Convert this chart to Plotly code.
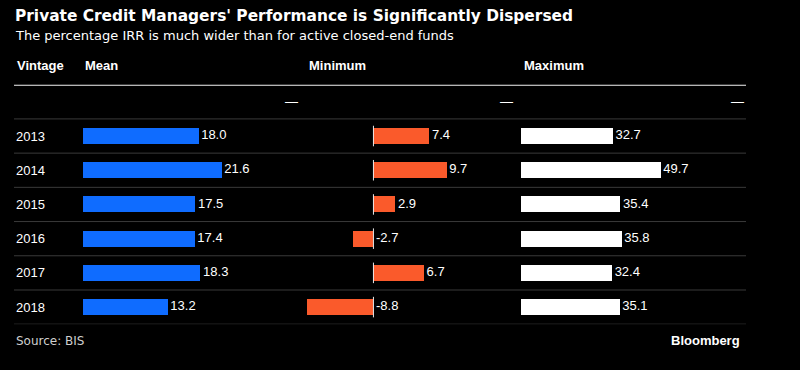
import plotly.graph_objects as go

# ---- data ----
vintages = ["2013", "2014", "2015", "2016", "2017", "2018"]
mean_irr = [18.0, 21.6, 17.5, 17.4, 18.3, 13.2]
min_irr = [7.4, 9.7, 2.9, -2.7, 6.7, -8.8]
max_irr = [32.7, 49.7, 35.4, 35.8, 32.4, 35.1]
col_headers = ["Vintage", "Mean", "Minimum", "Maximum"]
title = "Private Credit Managers' Performance is Significantly Dispersed"
subtitle = "The percentage IRR is much wider than for active closed-end funds"
source = "Source: BIS"

W, H = 800, 370
BLUE = "#0f6cff"
ORANGE = "#fa5a2b"
WHITE = "#ffffff"
GRID = "#3a3a3a"

rows = list(range(1, len(vintages) + 1))  # row 0 is the empty "—" row

def px(x):
    return x / W

def py(y):
    return 1 - y / H

# column domains (pixels)
mean_dom = (83, 300)
min_dom = (307, 515)
max_dom = (521, 746)

fig = go.Figure()

cols = [
    ("x", mean_irr, BLUE, [0, (mean_dom[1] - mean_dom[0]) / 6.42]),
    ("x2", min_irr, ORANGE, [-8.8, -8.8 + (min_dom[1] - min_dom[0]) / 7.55]),
    ("x3", max_irr, WHITE, [0, (max_dom[1] - max_dom[0]) / 2.81]),
]

for xa, vals, color, rng in cols:
    fig.add_trace(go.Bar(
        x=vals, y=rows, orientation="h", xaxis=xa, yaxis="y",
        marker=dict(color=color, line=dict(width=0)), width=0.47,
        hoverinfo="skip", showlegend=False,
    ))
    fig.add_trace(go.Scatter(
        x=[max(v, 0) for v in vals], y=rows, xaxis=xa, yaxis="y",
        mode="text", text=["\u2009" + f"{v:.1f}" for v in vals],
        textposition="middle right",
        textfont=dict(family="Liberation Sans, Arial", size=13, color="#ffffff"),
        hoverinfo="skip", showlegend=False,
    ))

axis_common = dict(showgrid=False, zeroline=False, showticklabels=False,
                   showline=False, ticks="", fixedrange=True)
fig.update_layout(
    width=W, height=H,
    paper_bgcolor="#000000", plot_bgcolor="rgba(0,0,0,0)",
    margin=dict(l=0, r=0, t=0, b=0, pad=0),
    bargap=0,
    xaxis=dict(domain=[px(mean_dom[0]), px(mean_dom[1])], range=cols[0][3], anchor="y", **axis_common),
    xaxis2=dict(domain=[px(min_dom[0]), px(min_dom[1])], range=cols[1][3], anchor="y", **axis_common),
    xaxis3=dict(domain=[px(max_dom[0]), px(max_dom[1])], range=cols[2][3], anchor="y", **axis_common),
    yaxis=dict(domain=[py(324.2), py(84.7)], range=[len(vintages) + 0.5, -0.5], **axis_common),
)

shapes = []
# header rule
shapes.append(dict(type="line", xref="paper", yref="y", x0=px(14), x1=px(746),
                   y0=-0.5, y1=-0.5, line=dict(color="#f2f2f2", width=2)))
# row separators
for k in range(len(vintages) + 1):
    shapes.append(dict(type="line", xref="paper", yref="y", x0=px(14), x1=px(746),
                       y0=k + 0.5, y1=k + 0.5, line=dict(color=GRID, width=1)))
# zero marker in the minimum column
for r in rows:
    shapes.append(dict(type="line", xref="x2", yref="y", x0=0, x1=0,
                       y0=r - 0.3, y1=r + 0.3, line=dict(color="#e8e8e8", width=1)))
fig.update_layout(shapes=shapes)

ann = []
ann.append(dict(text=f"<b>{title}</b>", x=px(13), y=py(16), xref="paper", yref="paper",
                xanchor="left", yanchor="middle", showarrow=False,
                font=dict(family="DejaVu Sans", size=15.4, color="#ffffff")))
ann.append(dict(text=subtitle, x=px(13), y=py(35), xref="paper", yref="paper",
                xanchor="left", yanchor="middle", showarrow=False,
                font=dict(family="DejaVu Sans", size=13, color="#ffffff")))
hdr_x = [15, 83, 307, 522]
for t, hx in zip(col_headers, hdr_x):
    ann.append(dict(text=f"<b>{t}</b>", x=px(hx), y=py(66), xref="paper", yref="paper",
                    xanchor="left", yanchor="middle", showarrow=False,
                    font=dict(family="Liberation Sans, Arial", size=13, color="#ffffff")))
for v, r in zip(vintages, rows):
    ann.append(dict(text=v, x=px(14), y=r, xref="paper", yref="y",
                    xanchor="left", yanchor="middle", showarrow=False,
                    font=dict(family="Liberation Sans, Arial", size=13, color="#ffffff")))
for d in (mean_dom, min_dom, max_dom):
    ann.append(dict(text="—", x=px(d[1]), y=0, xref="paper", yref="y",
                    xanchor="right", yanchor="middle", showarrow=False,
                    font=dict(family="Liberation Sans, Arial", size=13, color="#ffffff")))
ann.append(dict(text=source, x=px(14), y=py(341), xref="paper", yref="paper",
                xanchor="left", yanchor="middle", showarrow=False,
                font=dict(family="DejaVu Sans", size=12, color="#cfcfcf")))
ann.append(dict(text="<b>Bloomberg</b>", x=px(742), y=py(340), xref="paper", yref="paper",
                xanchor="right", yanchor="middle", showarrow=False,
                font=dict(family="Liberation Sans, Arial", size=13, color="#ffffff")))
fig.update_layout(annotations=ann)

fig.write_html("out.html",
               config=dict(displayModeBar=False, staticPlot=True),
               post_script="document.body.style.margin='0';document.body.style.overflow='hidden';")
